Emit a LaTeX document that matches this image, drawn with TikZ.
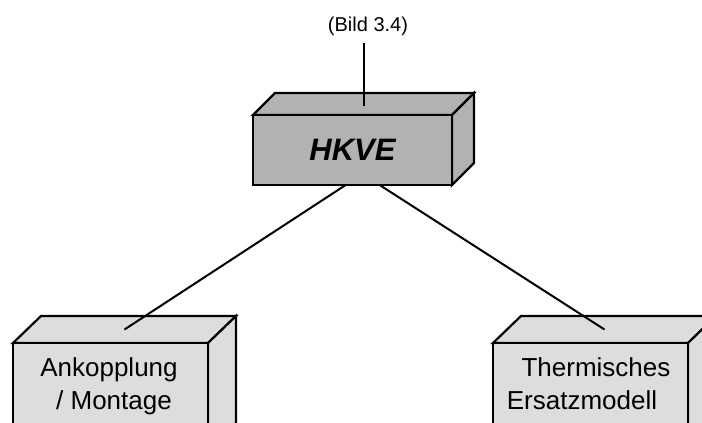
\documentclass[tikz,border=0pt]{standalone}
\usepackage{fontspec}
\setmainfont{Liberation Sans}
\definecolor{hkfill}{RGB}{178,178,178}
\definecolor{lowfill}{RGB}{221,221,221}
\newcommand\cuboidbox[7]{%
  % #1,#2 front top-left; #3,#4 front bottom-right; #5,#6 depth offset; #7 fill
  \filldraw[boxline,fill=#7] (#1,#2) -- (#1+#5,#2+#6) -- (#3+#5,#2+#6) -- (#3,#2) -- cycle;
  \filldraw[boxline,fill=#7] (#3,#2) -- (#3+#5,#2+#6) -- (#3+#5,#4+#6) -- (#3,#4) -- cycle;
  \filldraw[boxline,fill=#7] (#1,#2) rectangle (#3,#4);
}
\begin{document}
\begin{tikzpicture}[x=1pt,y=-1pt,
  boxline/.style={draw=black,line width=2.2pt,line join=miter},
  conn/.style={draw=black,line width=2pt},
  lbl/.style={inner sep=0pt,anchor=base,font=\fontsize{26}{30}\selectfont}]
\useasboundingbox (0,0) rectangle (702,423);
\clip (0,0) rectangle (702,423);
% lower boxes
\cuboidbox{13}{343}{208}{450}{28}{-27}{lowfill}
\cuboidbox{493}{343}{688}{450}{28}{-27}{lowfill}
\coordinate (lefttop) at (124.5,329.5);
\coordinate (righttop) at (604.5,329.5);
\coordinate (hkbottom) at (362.5,174);
% connectors (behind HKVE)
\draw[conn] (hkbottom) -- (lefttop);
\draw[conn] (hkbottom) -- (righttop);
% HKVE box
\cuboidbox{253}{115}{452}{185}{22}{-22}{hkfill}
\coordinate (hktop) at (363.5,106);
\node[inner sep=0pt,font=\fontsize{31}{36}\selectfont\bfseries\itshape] (hkve) at (352.5,150) {HKVE};
% reference label
\node[inner sep=0pt,font=\fontsize{20}{24}\selectfont] (bild) at (368,26) {(Bild 3.4)};
\coordinate (bildlow) at (363.5,43);
\draw[conn] (bildlow) -- (hktop);
% lower texts
\node[lbl] (ank1) at (109,376) {Ankopplung};
\node[lbl] (ank2) at (114,409.5) {/ Montage};
\node[lbl] (th1) at (596,376) {Thermisches};
\node[lbl] (th2) at (582,409) {Ersatzmodell};
\end{tikzpicture}
\end{document}
